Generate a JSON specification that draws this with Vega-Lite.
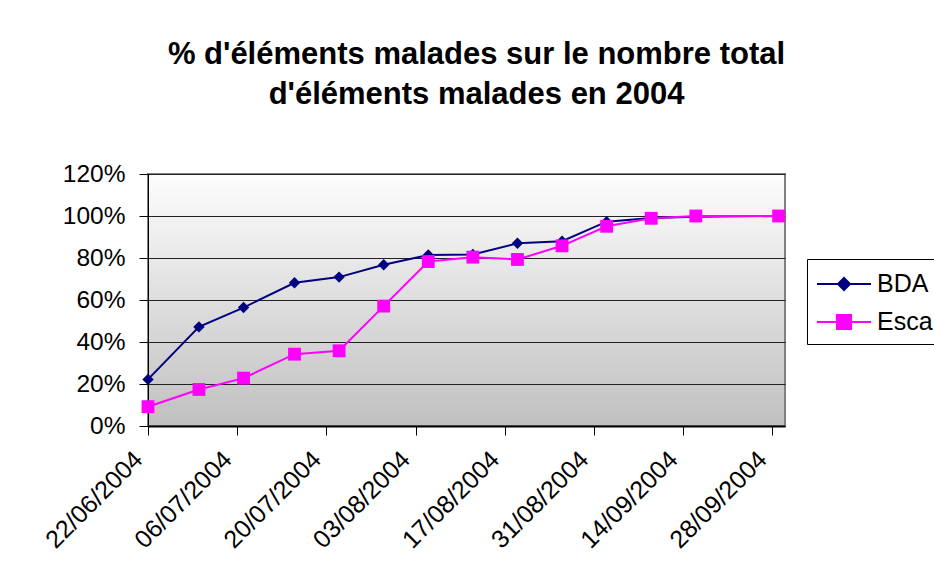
{
  "$schema": "https://vega.github.io/schema/vega-lite/v6.json",
  "width": 637,
  "height": 252,
  "autosize": {"type": "none"},
  "padding": {"left": 148, "top": 174, "right": 149, "bottom": 151},
  "background": "#ffffff",
  "title": {
    "text": ["% d'éléments malades sur le nombre total", "d'éléments malades en 2004"],
    "font": "Liberation Sans",
    "fontSize": 31,
    "fontWeight": "bold",
    "color": "#000000",
    "lineHeight": 40,
    "anchor": "middle",
    "frame": "group",
    "dx": 10,
    "offset": 50
  },
  "data": {
    "values": [
      {"date": "2004-06-22", "serie": "BDA", "value": 0.222},
      {"date": "2004-06-30", "serie": "BDA", "value": 0.472},
      {"date": "2004-07-07", "serie": "BDA", "value": 0.564},
      {"date": "2004-07-15", "serie": "BDA", "value": 0.682},
      {"date": "2004-07-22", "serie": "BDA", "value": 0.709},
      {"date": "2004-07-29", "serie": "BDA", "value": 0.768},
      {"date": "2004-08-05", "serie": "BDA", "value": 0.814},
      {"date": "2004-08-12", "serie": "BDA", "value": 0.817},
      {"date": "2004-08-19", "serie": "BDA", "value": 0.870},
      {"date": "2004-08-26", "serie": "BDA", "value": 0.880},
      {"date": "2004-09-02", "serie": "BDA", "value": 0.973},
      {"date": "2004-09-09", "serie": "BDA", "value": 0.991},
      {"date": "2004-09-16", "serie": "BDA", "value": 0.997},
      {"date": "2004-09-29", "serie": "BDA", "value": 1.0},
      {"date": "2004-06-22", "serie": "Esca", "value": 0.092},
      {"date": "2004-06-30", "serie": "Esca", "value": 0.174},
      {"date": "2004-07-07", "serie": "Esca", "value": 0.228},
      {"date": "2004-07-15", "serie": "Esca", "value": 0.342},
      {"date": "2004-07-22", "serie": "Esca", "value": 0.358},
      {"date": "2004-07-29", "serie": "Esca", "value": 0.571},
      {"date": "2004-08-05", "serie": "Esca", "value": 0.783},
      {"date": "2004-08-12", "serie": "Esca", "value": 0.804},
      {"date": "2004-08-19", "serie": "Esca", "value": 0.793},
      {"date": "2004-08-26", "serie": "Esca", "value": 0.858},
      {"date": "2004-09-02", "serie": "Esca", "value": 0.951},
      {"date": "2004-09-09", "serie": "Esca", "value": 0.989},
      {"date": "2004-09-16", "serie": "Esca", "value": 1.0},
      {"date": "2004-09-29", "serie": "Esca", "value": 1.0}
    ]
  },
  "encoding": {
    "x": {
      "field": "date",
      "type": "temporal",
      "title": null,
      "scale": {
        "type": "utc",
        "domain": [
          {"year": 2004, "month": 6, "date": 22, "utc": true},
          {"year": 2004, "month": 9, "date": 30, "utc": true}
        ]
      },
      "axis": {
        "values": [
          {"year": 2004, "month": 6, "date": 22, "utc": true},
          {"year": 2004, "month": 7, "date": 6, "utc": true},
          {"year": 2004, "month": 7, "date": 20, "utc": true},
          {"year": 2004, "month": 8, "date": 3, "utc": true},
          {"year": 2004, "month": 8, "date": 17, "utc": true},
          {"year": 2004, "month": 8, "date": 31, "utc": true},
          {"year": 2004, "month": 9, "date": 14, "utc": true},
          {"year": 2004, "month": 9, "date": 28, "utc": true}
        ],
        "labelExpr": "utcFormat(datum.value, '%d/%m/%Y')",
        "labelAngle": -45,
        "labelAlign": "right",
        "labelBaseline": "middle",
        "labelPadding": 20,
        "labelOffset": -10,
        "labelFont": "Liberation Sans",
        "labelFontSize": 25,
        "labelColor": "#000000",
        "labelOverlap": false,
        "labelFlush": false,
        "grid": false,
        "domainColor": "#000000",
        "domainWidth": 2,
        "tickColor": "#000000",
        "tickSize": 9,
        "tickWidth": 1
      }
    },
    "y": {
      "field": "value",
      "type": "quantitative",
      "title": null,
      "scale": {"domain": [0, 1.2], "nice": false, "zero": true},
      "axis": {
        "values": [0, 0.2, 0.4, 0.6, 0.8, 1.0, 1.2],
        "format": ".0%",
        "labelFont": "Liberation Sans",
        "labelFontSize": 24.5,
        "labelColor": "#000000",
        "labelPadding": 14,
        "grid": true,
        "gridColor": "#222222",
        "gridWidth": 1,
        "domainColor": "#000000",
        "domainWidth": 1,
        "tickColor": "#000000",
        "tickSize": 9,
        "tickWidth": 1
      }
    },
    "color": {
      "field": "serie",
      "type": "nominal",
      "scale": {"domain": ["BDA", "Esca"], "range": ["#000080", "#ff00ff"]},
      "legend": {
        "title": null,
        "orient": "none",
        "legendX": 659,
        "legendY": 85,
        "direction": "vertical",
        "strokeColor": "#000000",
        "fillColor": "#ffffff",
        "padding": 9,
        "labelFont": "Liberation Sans",
        "labelFontSize": 25,
        "labelColor": "#000000",
        "labelOffset": 29,
        "symbolSize": 900,
        "symbolStrokeWidth": 2,
        "rowPadding": 9,
        "encode": {
          "symbols": {
            "update": {
              "shape": {"signal": "datum.value === 'BDA' ? 'M-1,0H2.6M0.4,0L0.8,-0.4L1.2,0L0.8,0.4Z' : 'M-1,0H2.6M0.33,-0.47H1.27V0.47H0.33Z'"},
              "size": {"value": 900},
              "fill": {"signal": "datum.value === 'BDA' ? '#000080' : '#ff00ff'"},
              "stroke": {"signal": "datum.value === 'BDA' ? '#000080' : '#ff00ff'"},
              "strokeWidth": {"value": 2},
              "opacity": {"value": 1},
              "fillOpacity": {"value": 1},
              "strokeOpacity": {"value": 1}
            }
          }
        }
      }
    }
  },
  "layer": [
    {
      "mark": {"type": "line", "strokeWidth": 2, "interpolate": "linear"}
    },
    {
      "transform": [{"filter": "datum.serie === 'BDA'"}],
      "mark": {"type": "point", "shape": "diamond", "size": 130, "filled": true, "opacity": 1}
    },
    {
      "transform": [{"filter": "datum.serie === 'Esca'"}],
      "mark": {"type": "point", "shape": "square", "size": 165, "filled": true, "opacity": 1}
    }
  ],
  "config": {
    "view": {
      "stroke": "#808080",
      "strokeWidth": 2,
      "fill": {
        "gradient": "linear",
        "x1": 0, "y1": 0, "x2": 0, "y2": 1,
        "stops": [
          {"offset": 0, "color": "#fdfdfd"},
          {"offset": 1, "color": "#c0c0c0"}
        ]
      }
    }
  }
}
